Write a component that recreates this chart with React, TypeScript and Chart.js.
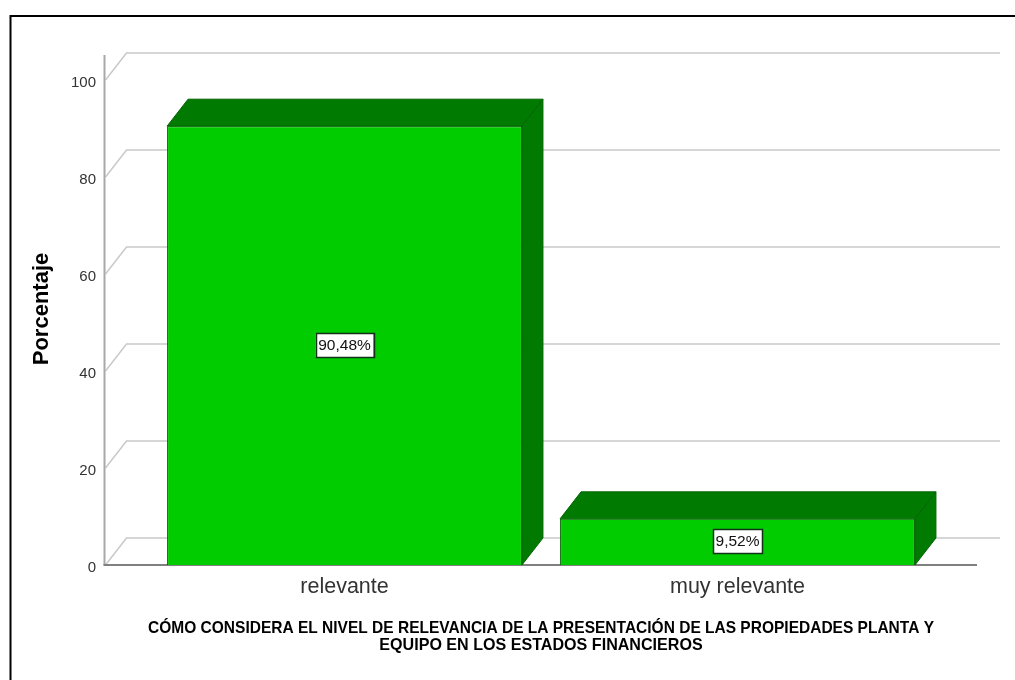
import React, { useEffect, useRef } from "react";
import { Chart, registerables } from "chart.js";

Chart.register(...registerables);

const categories = ["relevante", "muy relevante"];
const percentages = [90.48, 9.52];
const yTop = 105.57;
const yStep = 20;
const yTitle = "Porcentaje";
const xTitle = [
  "CÓMO CONSIDERA EL NIVEL DE RELEVANCIA DE LA PRESENTACIÓN DE LAS PROPIEDADES PLANTA Y",
  "EQUIPO EN LOS ESTADOS FINANCIEROS",
];

const FRONT = "#00cc00";
const SHADE = "#007a00";
const EDGE = "#006400";
const DEPTH_X = 21;
const DEPTH_Y = -27;
const SANS = "'Liberation Sans', Arial, sans-serif";

const polygon = (ctx: CanvasRenderingContext2D, pts: number[][], fill: string) => {
  ctx.beginPath();
  pts.forEach(([x, y], i) => (i ? ctx.lineTo(x, y) : ctx.moveTo(x, y)));
  ctx.closePath();
  ctx.fillStyle = fill;
  ctx.fill();
  ctx.strokeStyle = EDGE;
  ctx.lineWidth = 1;
  ctx.stroke();
};

// Outer frame, receding wall grid lines and the two axis lines.
const wallPlugin = {
  id: "wall",
  beforeDatasetsDraw(chart: any) {
    const { ctx, scales } = chart;
    const y = scales.y;
    const axisLeft = 105.5;
    const axisRight = 977;
    ctx.save();

    ctx.strokeStyle = "#000000";
    ctx.lineWidth = 2;
    ctx.beginPath();
    ctx.moveTo(10.5, 680);
    ctx.lineTo(10.5, 16);
    ctx.lineTo(1015, 16);
    ctx.stroke();

    ctx.strokeStyle = "#c9c9c9";
    ctx.lineWidth = 1.5;
    for (let v = 0; v <= 100; v += yStep) {
      const py = y.getPixelForValue(v);
      ctx.beginPath();
      ctx.moveTo(axisLeft, py);
      ctx.lineTo(axisLeft + DEPTH_X, py + DEPTH_Y);
      ctx.lineTo(1000, py + DEPTH_Y);
      ctx.stroke();
    }

    ctx.lineWidth = 2;
    ctx.strokeStyle = "#a8a8a8";
    ctx.beginPath();
    ctx.moveTo(axisLeft - 1, y.getPixelForValue(0));
    ctx.lineTo(axisLeft - 1, y.getPixelForValue(yTop) + 2);
    ctx.stroke();

    ctx.strokeStyle = "#808080";
    ctx.beginPath();
    ctx.moveTo(axisLeft - 2, y.getPixelForValue(0));
    ctx.lineTo(axisRight, y.getPixelForValue(0));
    ctx.stroke();
    ctx.restore();

    // Top and side faces sit behind the front face of each bar.
    const bars = chart.getDatasetMeta(0).data;
    ctx.save();
    bars.forEach((bar: any) => {
      const { x, y: top, base, width } = bar.getProps(["x", "y", "base", "width"], true);
      const l = x - width / 2;
      const r = x + width / 2;
      polygon(ctx, [[l, top], [l + DEPTH_X, top + DEPTH_Y], [r + DEPTH_X, top + DEPTH_Y], [r, top]], SHADE);
      polygon(ctx, [[r, top], [r + DEPTH_X, top + DEPTH_Y], [r + DEPTH_X, base + DEPTH_Y], [r, base]], SHADE);
    });
    ctx.restore();
  },
};

// Boxed percentage label in the middle of each bar.
const valueBoxPlugin = {
  id: "valueBox",
  afterDatasetsDraw(chart: any) {
    const { ctx } = chart;
    const bars = chart.getDatasetMeta(0).data;
    ctx.save();
    ctx.font = `15.5px ${SANS}`;
    ctx.textAlign = "center";
    ctx.textBaseline = "middle";
    bars.forEach((bar: any, i: number) => {
      const { x, y, base } = bar.getProps(["x", "y", "base"], true);
      const cy = (y + base) / 2 - 0.5;
      const text = `${percentages[i].toFixed(2).replace(".", ",")}%`;
      const w = ctx.measureText(text).width + 5;
      const h = 24;
      ctx.fillStyle = "#ffffff";
      ctx.fillRect(x - w / 2, cy - h / 2, w, h);
      ctx.strokeStyle = "#12301a";
      ctx.lineWidth = 1.5;
      ctx.strokeRect(Math.round(x - w / 2) + 0.5, Math.round(cy - h / 2) + 0.5, Math.round(w), h);
      ctx.fillStyle = "#111111";
      ctx.fillText(text, x, cy + 0.5);
    });
    ctx.restore();
  },
};

export default function App() {
  const canvasRef = useRef<HTMLCanvasElement>(null);

  useEffect(() => {
    document.body.style.margin = "0";
    const chart = new Chart(canvasRef.current as HTMLCanvasElement, {
      type: "bar",
      data: {
        labels: categories,
        datasets: [
          {
            data: percentages,
            backgroundColor: FRONT,
            borderColor: EDGE,
            borderWidth: 1,
            barPercentage: 0.903,
            categoryPercentage: 1,
          },
        ],
      },
      plugins: [wallPlugin, valueBoxPlugin],
      options: {
        animation: false,
        responsive: false,
        layout: { padding: { top: 53, right: 81, left: 0, bottom: 0 } },
        plugins: { legend: { display: false }, tooltip: { enabled: false } },
        scales: {
          x: {
            afterFit: (s: any) => {
              s.height = 115;
            },
            grid: { display: false, drawTicks: false },
            border: { display: false },
            ticks: { color: "#333333", padding: 9, font: { family: SANS, size: 21.5 } },
            title: {
              display: true,
              text: xTitle,
              color: "#000000",
              padding: { top: 0, bottom: 26 },
              font: { family: SANS, size: 16.1, weight: "bold", lineHeight: 1.06 },
            },
          },
          y: {
            bounds: "data",
            min: 0,
            max: yTop,
            afterFit: (s: any) => {
              // The wide tick padding must not shrink the plot height.
              s.width = 148;
              s.paddingTop = 0;
              s.paddingBottom = 0;
            },
            afterUpdate: (s: any) => {
              // Tick labels sit slightly below their grid line; wrap only once
              // because the layout updates the scale more than one time.
              if (s.labelsShifted) return;
              s.labelsShifted = true;
              const compute = s._computeLabelItems.bind(s);
              s._computeLabelItems = (area: any) =>
                compute(area).map((item: any) => ({
                  ...item,
                  options: {
                    ...item.options,
                    translation: [item.options.translation[0], item.options.translation[1] + 3],
                  },
                }));
            },
            grid: { display: false, drawTicks: false },
            border: { display: false },
            ticks: {
              stepSize: yStep,
              includeBounds: false,
              color: "#333333",
              padding: 52,
              font: { family: SANS, size: 15 },
            },
            title: {
              display: true,
              text: yTitle,
              color: "#000000",
              padding: { top: 29, bottom: 0 },
              font: { family: SANS, size: 22, weight: "bold" },
            },
          },
        },
      },
    } as any);
    return () => chart.destroy();
  }, []);

  return <canvas ref={canvasRef} width={1015} height={680} style={{ display: "block" }} />;
}
